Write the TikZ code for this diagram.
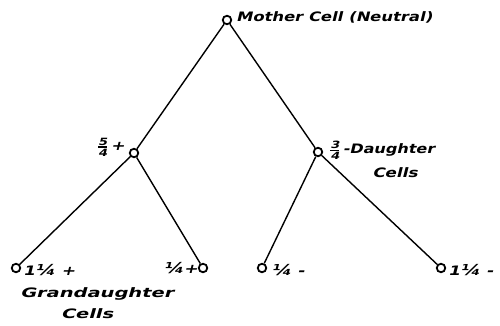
\documentclass[tikz,border=0pt]{standalone}
\usepackage{amsmath}
\usepackage{fontspec}
\newfontfamily\hand[FakeSlant=0.25,FakeStretch=1.3]{DejaVu Sans Bold}
\newcommand{\stk}[2]{$\genfrac{}{}{1.2pt}{}{\mbox{\hand\fontsize{10}{10}\selectfont #1}}{\mbox{\hand\fontsize{10}{10}\selectfont #2}}$}
\newcommand{\qtr}{{\fontsize{15}{15}\selectfont ¼}}
\begin{document}
\begin{tikzpicture}[x=1pt,y=-1pt,
  cell/.style={circle,draw,line width=1.8pt,inner sep=0pt,minimum size=8.5pt,fill=white},
  link/.style={line width=1.4pt},
  lab/.style={font=\hand\fontsize{13}{13}\selectfont,inner sep=0pt}]
\useasboundingbox[fill=white] (0,0) rectangle (500,326);
\node[cell] (m) at (227,20) {};
\node[cell] (l) at (134,153) {};
\node[cell] (r) at (318,152) {};
\node[cell] (a) at (16,268) {};
\node[cell] (b) at (203,268) {};
\node[cell] (c) at (262,268) {};
\node[cell] (d) at (441,268) {};
\draw[link] (m) -- (l);
\draw[link] (m) -- (r);
\draw[link] (l) -- (a);
\draw[link] (l) -- (b);
\draw[link] (r) -- (c);
\draw[link] (r) -- (d);
\node[lab,anchor=west] (tm) at (236,17) {\scalebox{0.97}[1]{Mother Cell (Neutral)}};
\node[lab,anchor=east] (tl) at (125,147) {\stk{5}{4}\,+};
\node[lab,anchor=west] (tr) at (329,150) {\stk{3}{4}\,\scalebox{0.95}[1]{-Daughter}};
\node[lab] (trc) at (395,173) {Cells};
\node[lab,anchor=west] (ta) at (23,270) {1\qtr\ +};
\node[lab,anchor=west] (tg) at (20,294) {\scalebox{1.15}[1]{Grandaughter}};
\node[lab] (tgc) at (87,314) {\scalebox{1.15}[1]{Cells}};
\node[lab,anchor=east] (tb) at (198,268) {\qtr+};
\node[lab,anchor=west] (tc) at (271,270) {\qtr\ -};
\node[lab,anchor=west] (td) at (448,270) {1\qtr\ -};
\end{tikzpicture}
\end{document}
